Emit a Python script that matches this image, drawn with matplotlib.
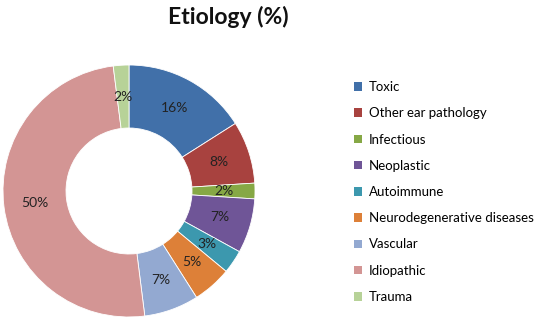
import matplotlib
matplotlib.use("Agg")
import matplotlib.pyplot as plt
from matplotlib.patches import Patch

plt.rcParams['font.family'] = ['Lato', 'DejaVu Sans']

categories = ['Toxic', 'Other ear pathology', 'Infectious', 'Neoplastic', 'Autoimmune',
              'Neurodegenerative diseases', 'Vascular', 'Idiopathic', 'Trauma']
values = [16, 8, 2, 7, 3, 5, 7, 50, 2]
colors = ['#4170A9', '#A8423F', '#86A845', '#6F5597', '#3C98AE',
          '#DD8038', '#93A9D1', '#D39594', '#B7D298']

fig = plt.figure(figsize=(5.36, 3.2), dpi=100)
ax = fig.add_axes([3/536, 3/320, 252/536, 252/320])

wedges, texts, autotexts = ax.pie(values, colors=colors, startangle=90, counterclock=False,
                                  radius=1, autopct='%1.0f%%', pctdistance=0.75,
                                  wedgeprops=dict(width=0.5, edgecolor='white', linewidth=0.6),
                                  textprops=dict(fontsize=10, color='#222222'))
ax.set_xlim(-1, 1)
ax.set_ylim(-1, 1)
ax.set_aspect('equal')
ax.axis('off')

fig.text(228/536, 1 - 17/320, 'Etiology (%)', ha='center', va='center',
         fontsize=16.5, fontweight='bold', color='#111111')

handles = [Patch(facecolor=c, edgecolor='none') for c in colors]
fig.legend(handles, categories, loc='upper left', bbox_to_anchor=(354/536, 1 - 81/320),
           frameon=False, fontsize=9.5, handlelength=0.6, handleheight=0.6,
           handletextpad=0.5, labelspacing=1.08, borderpad=0, borderaxespad=0)

fig.savefig('out.png', dpi=100)
